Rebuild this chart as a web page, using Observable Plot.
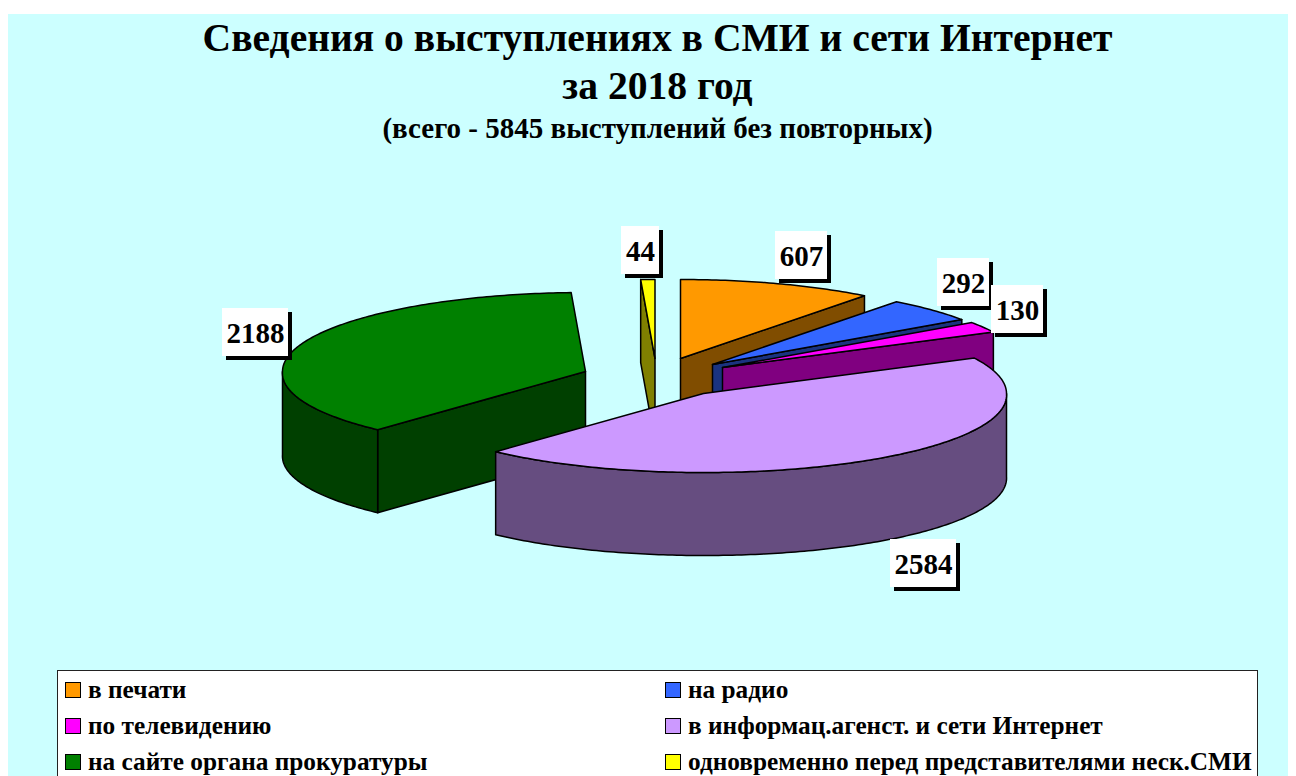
<!DOCTYPE html>
<html lang="ru">
<head>
<meta charset="utf-8">
<script src="https://cdn.jsdelivr.net/npm/d3@7"></script>
<script src="https://cdn.jsdelivr.net/npm/@observablehq/plot@0.6"></script>
<style>
html,body{margin:0;padding:0;background:#fff;overflow:hidden}
#page{position:relative;width:1296px;height:776px;overflow:hidden;font-family:"Liberation Serif","Times New Roman",serif;font-weight:bold;color:#000}
#panel{position:absolute;left:8px;top:14px;right:8px;bottom:0;background:#ccffff}
.t{position:absolute;left:8px;width:1299px;text-align:center;white-space:nowrap}
#chart{position:absolute;left:0;top:160px}
#legend{position:absolute;left:57px;top:670px;width:1199px;height:120px;background:#fff;border:1px solid #222}
.sw{position:absolute;width:14px;height:14px;border:1.5px solid #000}
.lb{position:absolute;font-size:25.3px;line-height:26px;white-space:nowrap}
</style>
</head>
<body>
<div id="page">
  <div id="panel"></div>
  <div class="t" style="top:15px;font-size:39.6px;line-height:46px">Сведения о выступлениях в СМИ и сети Интернет</div>
  <div class="t" style="top:63px;font-size:39.6px;line-height:46px">за 2018 год</div>
  <div class="t" style="top:113px;font-size:29px;line-height:30px">(всего - 5845 выступлений без повторных)</div>
  <div id="chart"></div>
  <div id="legend"></div>
</div>
<script>
const categories = ["в печати","на радио","по телевидению","в информац.агенст. и сети Интернет","на сайте органа прокуратуры","одновременно перед представителями неск.СМИ"];
const values = [607,292,130,2584,2188,44];
const topColors = ["#ff9900","#3366ff","#ff00ff","#cc99ff","#008000","#ffff00"];
const wallColors = ["#804d00","#1a3380","#800080","#664d80","#004000","#808000"];

// layout of the exploded pie, in page pixels
const rx = 303, ry = 79, depth = 83, perspective = 0.02;
const apexX = [680,712,722,703,585,654.5];
const apexY = [358,364,367,393,371,358];
const labelX = [775,937,991,890,222,621];
const labelY = [231,258,285,539,308,226];
const paintOrder = [0,5,1,2,4,3];

const total = d3.sum(values);
const cum = d3.cumsum(values);
const ang = v => v / total * 2 * Math.PI;

function arc(i, a0, a1, dy = 0) {
  const n = Math.max(2, Math.ceil((a1 - a0) / 0.015));
  return d3.range(n + 1).map(k => {
    const a = a0 + (a1 - a0) * k / n;
    const f = 1 + perspective * Math.max(0, -Math.cos(a));
    return {x: apexX[i] + rx * f * Math.sin(a), y: apexY[i] - ry * Math.cos(a) + dy};
  });
}
const closed = pts => [...pts, pts[0]];
const poly = (pts, fill) => Plot.line(closed(pts), {x: "x", y: "y", fill, stroke: "#000", strokeWidth: 1.5, curve: "linear"});

const marks = [];
for (const i of paintOrder) {
  const a0 = ang(cum[i] - values[i]), a1 = ang(cum[i]);
  const A = {x: apexX[i], y: apexY[i]};
  const AB = {x: A.x, y: A.y + depth};
  const P0 = arc(i, a0, a0)[0], P1 = arc(i, a1, a1)[0];
  // straight cut walls that face the viewer
  if (Math.sin(a1) > 1e-6) marks.push(poly([A, P1, {x: P1.x, y: P1.y + depth}, AB], wallColors[i]));
  if (Math.sin(a0) < -1e-6) marks.push(poly([A, P0, {x: P0.x, y: P0.y + depth}, AB], wallColors[i]));
  // outer curved wall
  const w0 = Math.max(a0, Math.PI / 2), w1 = Math.min(a1, Math.PI * 1.5);
  if (w1 > w0) marks.push(poly([...arc(i, w0, w1), ...arc(i, w0, w1, depth).reverse()], wallColors[i]));
  // top face
  marks.push(poly([A, ...arc(i, a0, a1)], topColors[i]));
}

const labels = values.map((v, i) => {
  const w = 10 + 14 * String(v).length;
  return {v: String(v), x1: labelX[i], x2: labelX[i] + w, y1: labelY[i], y2: labelY[i] + 48};
});

const plot = Plot.plot({
  width: 1296, height: 500,
  margin: 0,
  x: {domain: [0, 1296], axis: null},
  y: {domain: [660, 160], axis: null},
  style: {background: "transparent", overflow: "visible"},
  marks: [
    ...marks,
    Plot.rect(labels, {x1: d => d.x1 + 4, x2: d => d.x2 + 4, y1: d => d.y1 + 4, y2: d => d.y2 + 4, fill: "#000"}),
    Plot.rect(labels, {x1: "x1", x2: "x2", y1: "y1", y2: "y2", fill: "#fff"}),
    Plot.text(labels, {x: d => (d.x1 + d.x2) / 2, y: d => (d.y1 + d.y2) / 2 + 1, text: "v", fontFamily: "Liberation Serif", fontWeight: "bold", fontSize: 29, fill: "#000"})
  ]
});
document.getElementById("chart").append(plot);

// legend
const legend = document.getElementById("legend");
categories.forEach((c, i) => {
  const col = i % 2, row = Math.floor(i / 2);
  const sw = document.createElement("div");
  sw.className = "sw";
  sw.style.left = (col ? 607 : 7) + "px";
  sw.style.top = (11 + row * 36) + "px";
  sw.style.background = topColors[i];
  legend.append(sw);
  const lb = document.createElement("div");
  lb.className = "lb";
  lb.style.left = (col ? 630 : 30) + "px";
  lb.style.top = (5 + row * 36) + "px";
  lb.textContent = c;
  legend.append(lb);
});
</script>
</body>
</html>
